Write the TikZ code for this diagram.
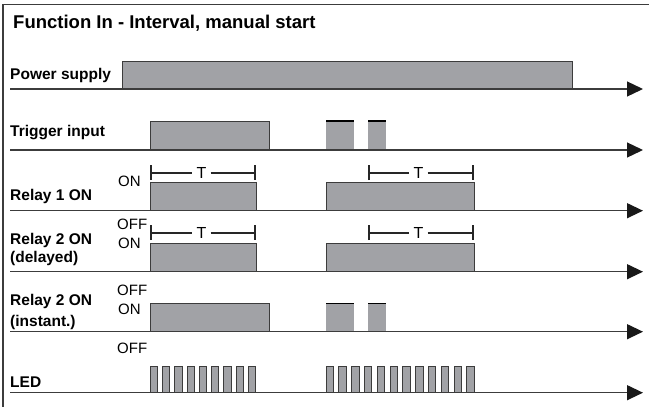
\documentclass[tikz,border=0pt]{standalone}
\usepackage{fontspec}
\setmainfont{Liberation Sans}
\usepackage{xcolor}
\usetikzlibrary{arrows.meta}
\usetikzlibrary{positioning}

\definecolor{pulsegray}{RGB}{161,162,166}
\definecolor{linegray}{RGB}{60,60,60}

\tikzset{
  sig/.style={font=\bfseries\fontsize{15.5}{18}\selectfont, anchor=base west, inner sep=0pt},
  state/.style={font=\fontsize{15}{18}\selectfont, anchor=base west, inner sep=0pt},
  axis/.style={draw=linegray, line width=1.3pt, -{Triangle[length=16pt,width=15pt,color=black!90]}},
  pulse/.style={fill=pulsegray, draw=linegray, line width=0.8pt},
  blip/.style={fill=pulsegray},
  bracket/.style={draw=black!85, line width=1.6pt},
  tlabel/.style={font=\fontsize{16}{18}\selectfont, inner sep=4pt},
}

\begin{document}
\begin{tikzpicture}[x=1pt, y=-1pt]

    \useasboundingbox (0,0) rectangle (649,407);

    % Frame
    \draw[linegray, line width=1.6pt] (3,407) -- (3,4.5) -- (649,4.5);

    % Title
    \node[font=\bfseries\fontsize{18.5}{20}\selectfont, anchor=base west, inner sep=0pt] (title) at (13,28.3) {Function In - Interval, manual start};

    % Signal names
    \node[sig] (power) at (10,79) {Power supply};
    \node[sig] (trigger) at (10,136) {Trigger input};
    \node[sig] (relayA) at (10,200) {Relay 1 ON};
    \node[sig] (relayB) at (10,244.3) {Relay 2 ON};
    \node[sig] (relayBb) at ([yshift=-18.5pt]relayB.base west) {(delayed)};
    \node[sig] (relayC) at (10,305) {Relay 2 ON};
    \node[sig] (relayCb) at ([yshift=-21pt]relayC.base west) {(instant.)};
    \node[sig] (led) at (10,387.3) {LED};

    % ON / OFF states
    \node[state] (onA) at (118,186.7) {ON};
    \node[state] (offB) at (117,229.3) {OFF};
    \node[state] (onB) at (118,248.3) {ON};
    \node[state] (offC) at (117,295) {OFF};
    \node[state] (onC) at (118,314) {ON};
    \node[state] (offD) at (117,353.3) {OFF};

    % Pulses
    \draw[pulse] (122,61) rectangle (572,89);
    \draw[pulse] (150,121) rectangle (269,150);
    \fill[blip] (326,121) rectangle (354,150);
    \fill[blip] (368,121) rectangle (386,150);
    \draw[black, line width=1.2pt] (326,121) -- (354,121) (368,121) -- (386,121);
    \draw[pulse] (150,182.7) rectangle (256,210.7);
    \draw[pulse] (326,182.7) rectangle (474,210.7);
    \draw[pulse] (150,243.3) rectangle (256,271.7);
    \draw[pulse] (326,243.3) rectangle (474,271.7);
    \draw[pulse] (150,303.3) rectangle (269,331.7);
    \fill[blip] (326,303.3) rectangle (354,331.7);
    \fill[blip] (368,303.3) rectangle (386,331.7);
    \draw[black, line width=1.2pt] (326,303.3) -- (354,303.3) (368,303.3) -- (386,303.3);
    \foreach \i in {0,...,8}
      \draw[pulse] ({150+12.3*\i},366) rectangle +(7.3,26.7);
    \foreach \i in {0,...,11}
      \draw[pulse] ({326+12.8*\i},366) rectangle +(7.3,26.7);

    % Time axes
    \foreach \name/\y in {power/89, trigger/150, relayA/210.7, relayB/271.7, relayC/331.7, led/392.7} {
      \coordinate (\name-s) at (10,\y);
      \coordinate (\name-e) at (643,\y);
      \draw[axis] (\name-s) -- (\name-e);
    }

    % Interval T
    \foreach \k/\y/\xa/\xt/\xb in {a/172.7/150/201.5/256, b/172.7/368/418.5/474, c/232.7/150/201.5/256, d/232.7/368/418.5/474} {
      \coordinate (\k-l) at (\xa,\y);
      \coordinate (\k-r) at (\xb,\y);
      \node[tlabel] (\k-t) at (\xt,\y) {T};
      \draw[bracket, {Bar[width=15pt]}-] (\k-l) -- (\k-t);
      \draw[bracket, -{Bar[width=15pt]}] (\k-t) -- (\k-r);
    }

\end{tikzpicture}
\end{document}
